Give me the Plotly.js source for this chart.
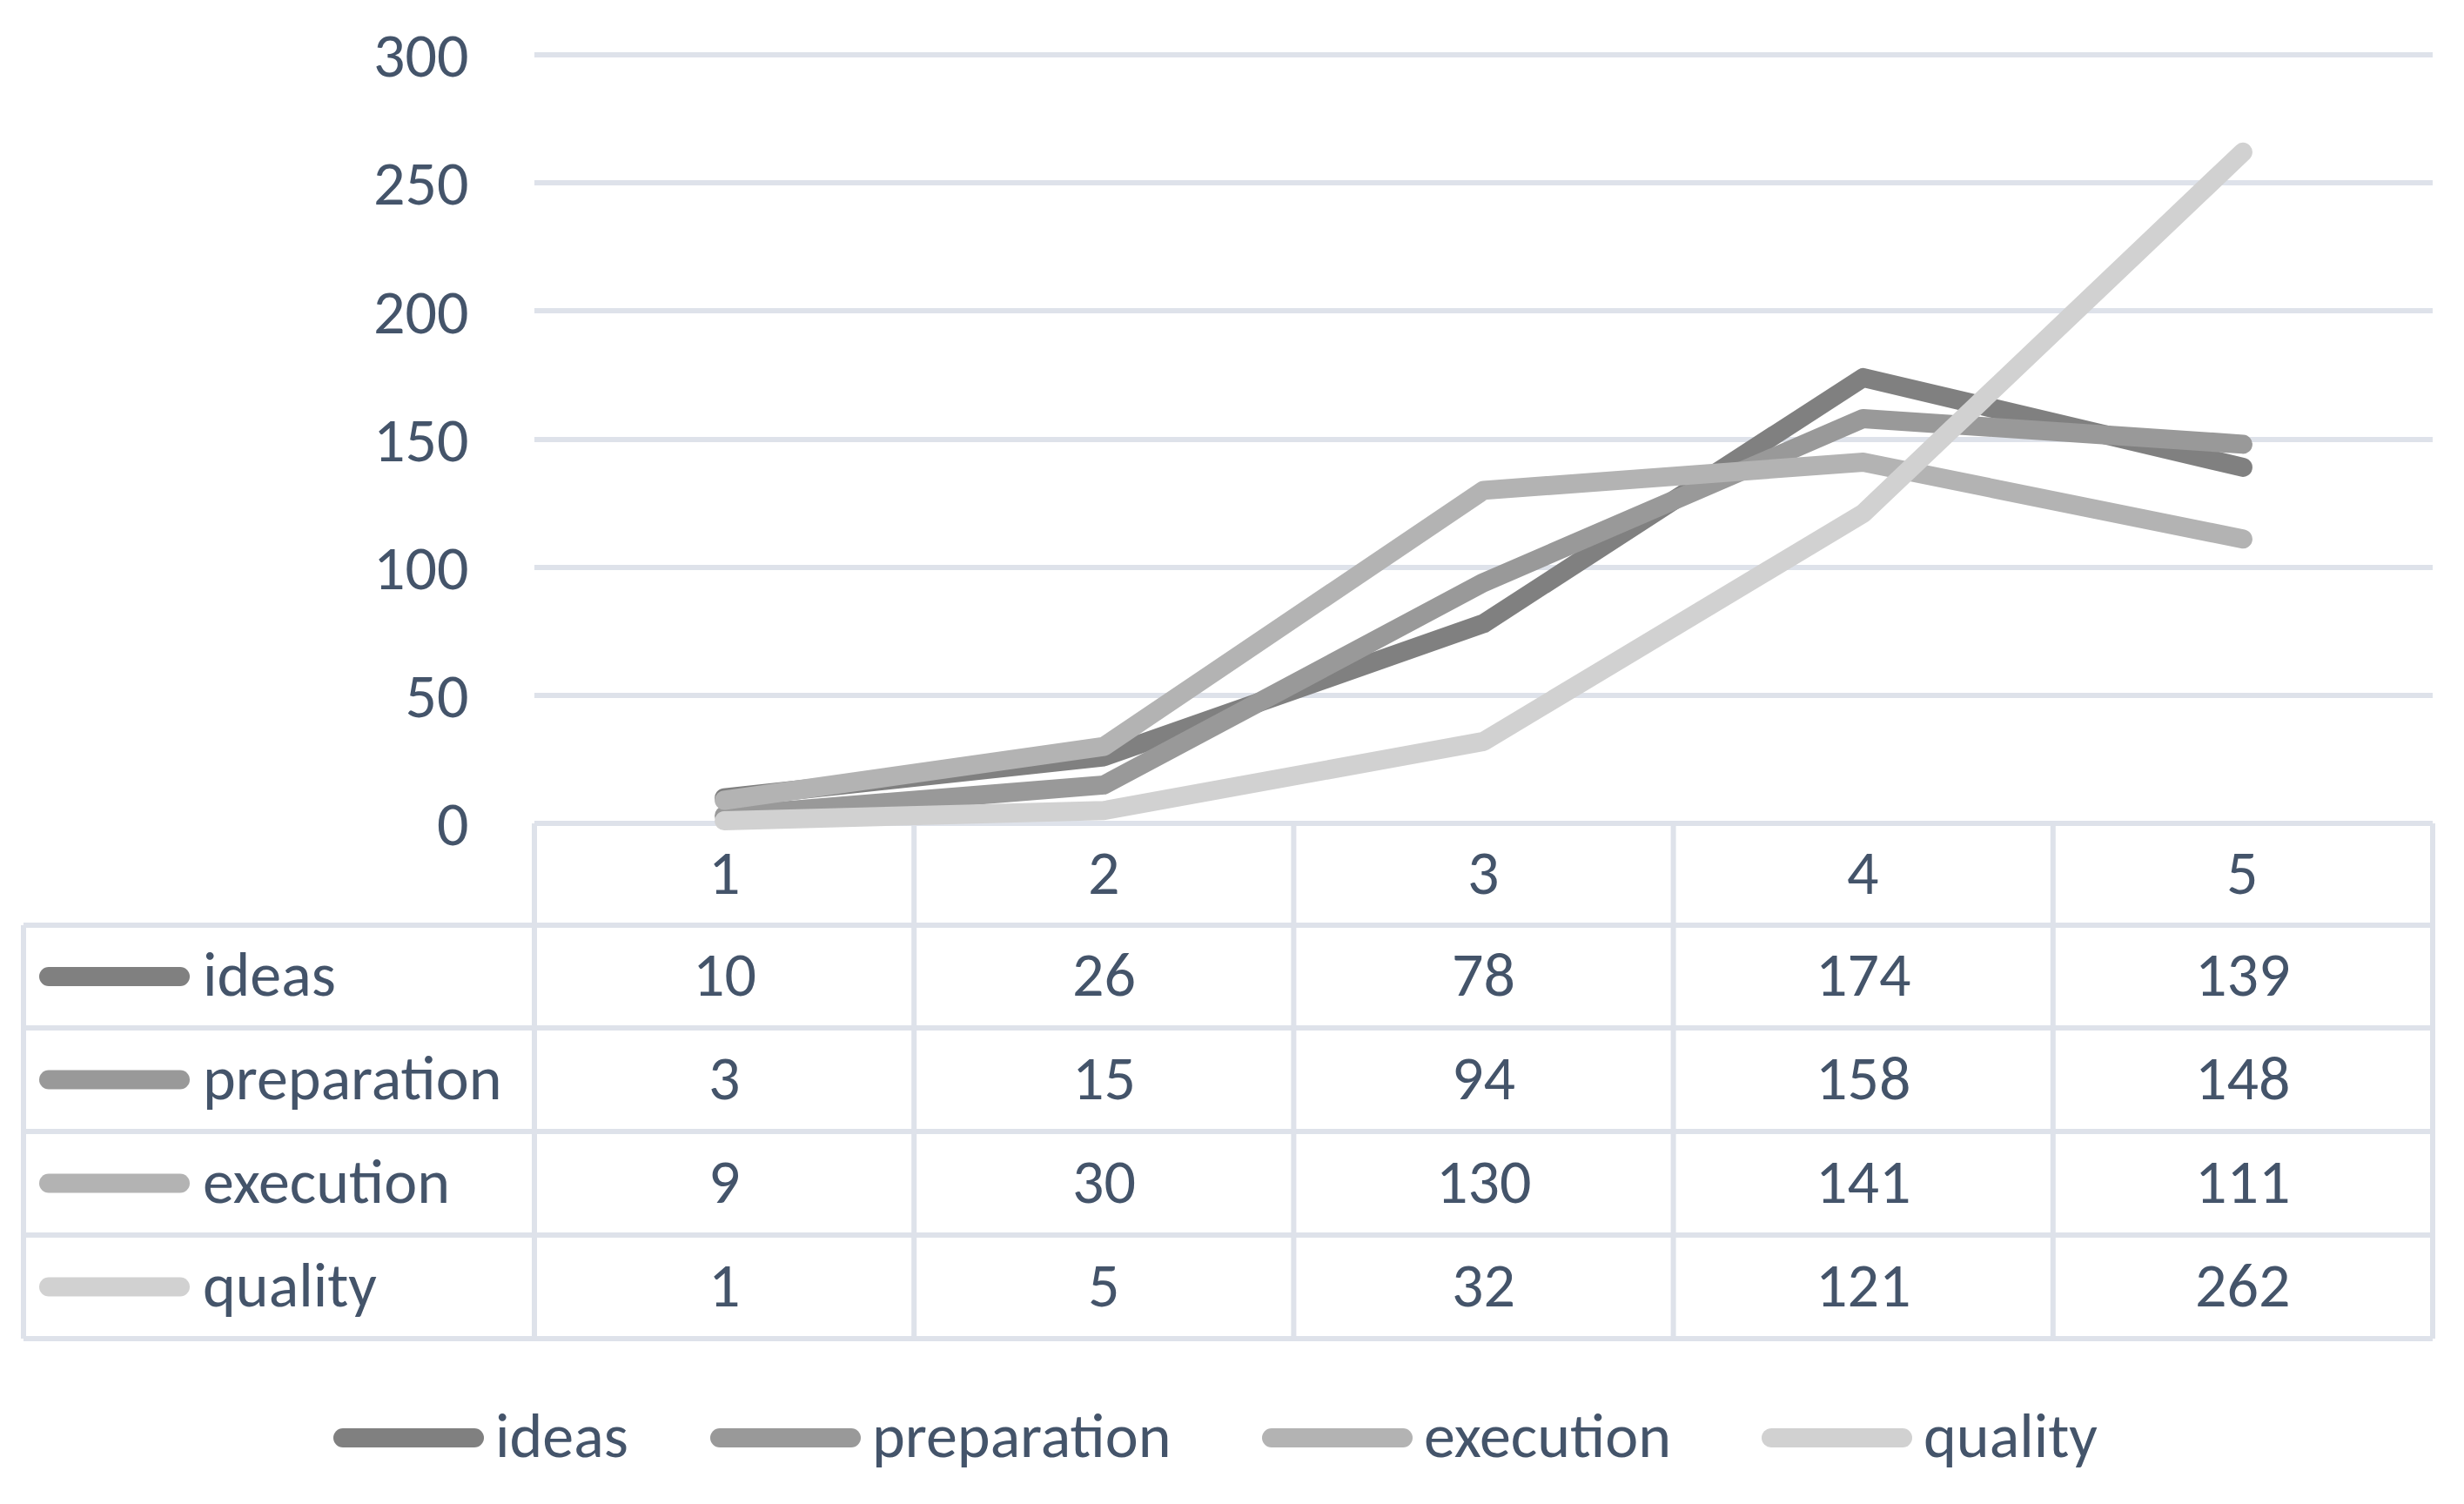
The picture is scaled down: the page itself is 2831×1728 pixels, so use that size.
<!DOCTYPE html>
<html><head><meta charset="utf-8">
<script src="https://cdn.plot.ly/plotly-3.0.1.min.js"></script>
<style>
html,body{margin:0;padding:0;background:#fff;}
#chart{width:2831px;height:1728px;}
.scatterlayer .js-line{stroke-linecap:round;stroke-linejoin:round;}
.shapelayer path[style*="stroke-width: 22px"]{stroke-linecap:round;}
</style></head><body><div id="chart"></div>
<script>
// ---- data ----
const categories = ['1','2','3','4','5'];
const seriesNames = ['ideas','preparation','execution','quality'];
const ideas = [10,26,78,174,139];
const preparation = [3,15,94,158,148];
const execution = [9,30,130,141,111];
const quality = [1,5,32,121,262];
const yTicks = [0,50,100,150,200,250,300];

// ---- styling / layout ----
const seriesValues = [ideas, preparation, execution, quality];
const colors = ['#808080','#999999','#b3b3b3','#d1d1d1'];
const W = 2831, H = 1728;
const L = 614, R = 2795, T = 40, B = 970;   // plot area in px
const Y0 = 946;                              // pixel row of value 0
const Ytop = 63;                             // pixel row of value 300
const vTop = 300;
const s = vTop / (Y0 - Ytop);
const yMin = -(B - Y0) * s;
const yMax = vTop + (Ytop - T) * s;
const py = Y => (B - Y) / (B - T);
const pxp = X => (X - L) / (R - L);
const FONT = 'Calibri, Carlito, Lato, sans-serif';
const TXT = '#44546a';
const GRID = '#dee2ea';
const FS = 72;
const LW = 22;

const rowLines = [1063, 1181, 1300, 1419, 1538];
const headerMid = (Y0 + rowLines[0]) / 2 - 3;
const rowMids = [0,1,2,3].map(i => (rowLines[i] + rowLines[i+1]) / 2 - 3);
const tableLeft = 27;

const traces = seriesNames.map((n, i) => ({
  type: 'scatter', mode: 'lines', name: n,
  x: categories, y: seriesValues[i],
  line: {color: colors[i], width: LW},
  hoverinfo: 'skip', showlegend: false
}));

const shapes = [];
const annotations = [];
function key(x0, x1, Y, color) {
  // round caps add LW/2 on each side
  shapes.push({type:'line', xref:'paper', yref:'paper', layer:'above',
    x0: pxp(x0 + LW / 2), x1: pxp(x1 - LW / 2), y0: py(Y), y1: py(Y),
    line:{color: color, width: LW}});
}
// table horizontal lines
rowLines.forEach(Y => shapes.push({type:'line', xref:'paper', yref:'paper', layer:'below',
  x0: pxp(tableLeft), x1: 1, y0: py(Y), y1: py(Y), line:{color:GRID, width:6}}));
// table vertical lines
shapes.push({type:'line', xref:'paper', yref:'paper', layer:'below',
  x0: pxp(tableLeft), x1: pxp(tableLeft), y0: py(rowLines[0]), y1: py(rowLines[4]), line:{color:GRID, width:6}});
for (let k = 0; k <= categories.length; k++) {
  const xp = k / categories.length;
  shapes.push({type:'line', xref:'paper', yref:'paper', layer:'below',
    x0: xp, x1: xp, y0: py(Y0), y1: py(rowLines[4]), line:{color:GRID, width:6}});
}
// header row
categories.forEach((c, j) => annotations.push({x: j, xref:'x', y: py(headerMid), yref:'paper',
  text: c, showarrow:false, xanchor:'center', yanchor:'middle', font:{family:FONT, size:FS, color:TXT}}));
// data rows
seriesNames.forEach((n, i) => {
  const Ym = rowMids[i];
  key(45, 218, Ym + 3, colors[i]);
  annotations.push({x: pxp(231), xref:'paper', y: py(Ym), yref:'paper', text: n, showarrow:false,
    xanchor:'left', yanchor:'middle', font:{family:FONT, size:FS, color:TXT}});
  seriesValues[i].forEach((v, j) => annotations.push({x: j, xref:'x', y: py(Ym), yref:'paper',
    text: String(v), showarrow:false, xanchor:'center', yanchor:'middle', font:{family:FONT, size:FS, color:TXT}}));
});
// bottom legend
const legKeyStart = [383, 816, 1450, 2024];
const legY = 1652;
seriesNames.forEach((n, i) => {
  key(legKeyStart[i], legKeyStart[i] + 173, legY, colors[i]);
  annotations.push({x: pxp(legKeyStart[i] + 184), xref:'paper', y: py(legY - 3), yref:'paper', text: n,
    showarrow:false, xanchor:'left', yanchor:'middle', font:{family:FONT, size:FS, color:TXT}});
});

const layout = {
  width: W, height: H,
  margin: {l: L, r: W - R, t: T, b: H - B, pad: 0},
  paper_bgcolor: '#ffffff', plot_bgcolor: 'rgba(0,0,0,0)',
  showlegend: false,
  xaxis: {type:'category', range:[-0.5, categories.length - 0.5], showgrid:false, zeroline:false,
    showline:false, showticklabels:false, ticks:''},
  yaxis: {range:[yMin, yMax], tickmode:'array', tickvals: yTicks, ticktext: yTicks.map(String),
    showgrid:true, gridcolor: GRID, gridwidth: 6, zeroline:false, showline:false,
    ticks:'outside', ticklen: 60, tickcolor:'rgba(0,0,0,0)', tickwidth: 1,
    tickfont:{family:FONT, size:FS, color:TXT}},
  shapes: shapes, annotations: annotations
};

Plotly.newPlot('chart', traces, layout, {staticPlot:true, displayModeBar:false});
</script></body></html>
